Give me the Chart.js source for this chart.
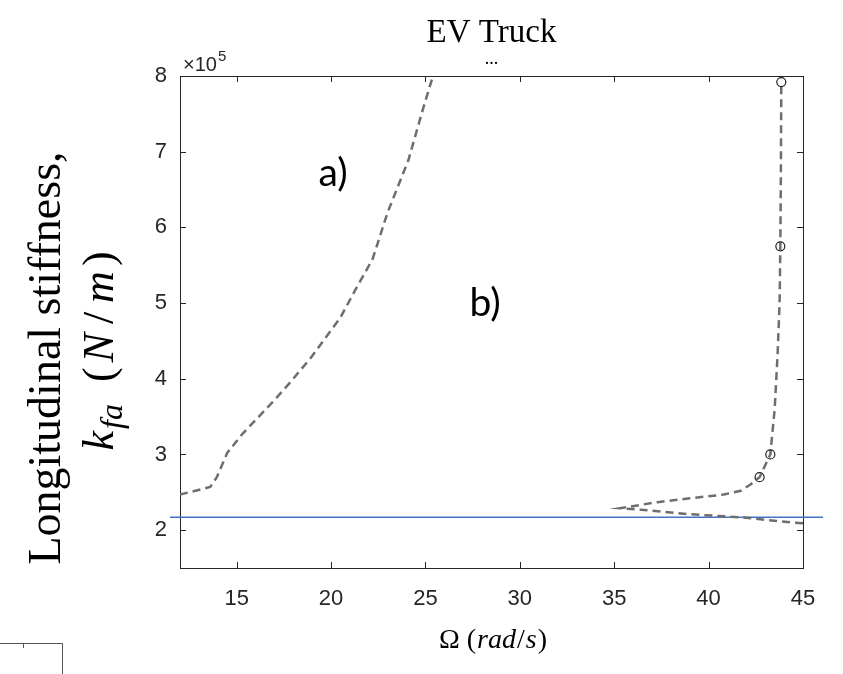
<!DOCTYPE html>
<html>
<head>
<meta charset="utf-8">
<title>EV Truck</title>
<script src="https://cdn.jsdelivr.net/npm/chart.js@4.4.1/dist/chart.umd.min.js"></script>
<style>
  html, body { margin: 0; padding: 0; background: #fff; }
  #wrap { width: 843px; height: 674px; position: relative; }
</style>
</head>
<body>
<div id="wrap"><canvas id="stiffnessChart"></canvas></div>
<script>
// values, y in units of 1e5 N/m
const xTicks = [15, 20, 25, 30, 35, 40, 45];
const yTicks = [2, 3, 4, 5, 6, 7, 8];

// boundary a) (left curve)
const curveAX = [12.0, 13.6, 13.95, 14.5, 15.3, 16.9, 17.9, 19.0, 20.5, 21.3, 22.2, 23.0, 24.1, 24.9, 25.4];
const curveAY = [2.47, 2.57, 2.70, 3.02, 3.27, 3.69, 3.97, 4.30, 4.81, 5.18, 5.58, 6.20, 6.89, 7.59, 8.0];

// boundary b) (right curve, lower branch then upper branch)
const curveBX = [45.0, 44.5, 41.7, 39.0, 36.4, 35.3, 37.3, 39.0, 40.8, 41.7, 42.2, 42.7, 43.27, 43.5, 43.65, 43.76, 43.8, 43.83, 43.85];
const curveBY = [2.09, 2.10, 2.17, 2.21, 2.27, 2.29, 2.37, 2.42, 2.47, 2.52, 2.60, 2.70, 3.00, 3.60, 4.30, 5.00, 5.75, 6.80, 7.92];

// circled points on curve b)
const markX = [43.85, 43.8, 43.27, 42.7];
const markY = [7.92, 5.75, 3.00, 2.70];

// horizontal reference line
const refY = 2.17;
const refX = [11.47, 46.06];

const toPts = (xs, ys) => xs.map((x, i) => ({ x: x, y: ys[i] }));

const serif = "'Liberation Serif', 'Times New Roman', serif";
const sans = "'Liberation Sans', Arial, sans-serif";
const axisColor = '#262626';

function drawRuns(ctx, runs, cx, base) {
  let total = 0;
  runs.forEach(r => {
    ctx.font = r.font;
    r.w = ctx.measureText(r.text).width;
    total += r.w + (r.gap || 0);
  });
  let x = cx - total / 2;
  runs.forEach(r => {
    ctx.font = r.font;
    ctx.fillText(r.text, x, base + (r.dy || 0));
    x += r.w + (r.gap || 0);
  });
}

const matlabAxes = {
  id: 'matlabAxes',
  beforeDatasetsDraw(chart) {
    const ctx = chart.ctx;
    const a = chart.chartArea;
    const xs = chart.scales.x, ys = chart.scales.y;
    ctx.save();
    ctx.strokeStyle = axisColor;
    ctx.lineWidth = 1;
    ctx.strokeRect(a.left + 0.5, a.top + 0.5, a.right - a.left, a.bottom - a.top);
    ctx.beginPath();
    xs.ticks.forEach(t => {
      const px = Math.round(xs.getPixelForValue(t.value)) + 0.5;
      ctx.moveTo(px, a.bottom); ctx.lineTo(px, a.bottom - 6);
      ctx.moveTo(px, a.top); ctx.lineTo(px, a.top + 6);
    });
    ys.ticks.forEach(t => {
      const py = Math.round(ys.getPixelForValue(t.value)) + 0.5;
      ctx.moveTo(a.left, py); ctx.lineTo(a.left + 6, py);
      ctx.moveTo(a.right, py); ctx.lineTo(a.right - 6, py);
    });
    ctx.stroke();
    ctx.restore();
  },
  afterDraw(chart) {
    const ctx = chart.ctx;
    const a = chart.chartArea;
    ctx.save();
    ctx.fillStyle = '#000';
    ctx.textBaseline = 'alphabetic';

    // title
    ctx.textAlign = 'center';
    ctx.font = '33px ' + serif;
    ctx.fillText('EV Truck', (a.left + a.right) / 2, 42);
    ctx.font = '18px ' + serif;
    ctx.fillText('...', (a.left + a.right) / 2, 64);

    // exponent label
    ctx.fillStyle = axisColor;
    ctx.textAlign = 'left';
    ctx.font = '20px ' + sans;
    ctx.fillText('\u00d710', a.left + 3, 71);
    const w = ctx.measureText('\u00d710').width;
    ctx.font = '15px ' + sans;
    ctx.fillText('5', a.left + 4 + w, 61);

    // region labels
    ctx.fillStyle = '#000';
    ctx.textAlign = 'center';
    ctx.font = '39px Lato, sans-serif';
    ctx.fillText('a)', 333, 186);
    ctx.fillText('b)', 485, 316);

    // x axis title
    ctx.textAlign = 'left';
    drawRuns(ctx, [
      { text: '\u03a9', font: '28px ' + serif, gap: 7 },
      { text: '(', font: '28px ' + serif, gap: 1 },
      { text: 'rad', font: 'italic 28px ' + serif, gap: 1 },
      { text: '/', font: '28px ' + serif, gap: 1 },
      { text: 's', font: 'italic 28px ' + serif, gap: 1 },
      { text: ')', font: '28px ' + serif }
    ], 493, 648);

    // y axis title (two lines, rotated)
    ctx.save();
    ctx.translate(60, 358);
    ctx.rotate(-Math.PI / 2);
    ctx.textAlign = 'center';
    ctx.font = '46px ' + serif;
    ctx.fillText('Longitudinal stiffness,', 0, 0);
    ctx.restore();

    ctx.save();
    ctx.translate(113, 351);
    ctx.rotate(-Math.PI / 2);
    ctx.textAlign = 'left';
    drawRuns(ctx, [
      { text: 'k', font: 'italic 44px ' + serif, gap: 2 },
      { text: 'fa', font: 'italic 32px ' + serif, dy: 9, gap: 22 },
      { text: '(', font: '44px ' + serif, gap: 5 },
      { text: 'N', font: 'italic 44px ' + serif, gap: 9 },
      { text: '/', font: '44px ' + serif, gap: 9 },
      { text: 'm', font: 'italic 44px ' + serif, gap: 5 },
      { text: ')', font: '44px ' + serif }
    ], 0, 0);
    ctx.restore();

    // stray frame fragment at bottom-left
    ctx.strokeStyle = '#555';
    ctx.lineWidth = 1;
    ctx.beginPath();
    ctx.moveTo(0, 643.5); ctx.lineTo(62.5, 643.5); ctx.lineTo(62.5, 674);
    ctx.moveTo(23.5, 643.5); ctx.lineTo(23.5, 648);
    ctx.stroke();
    ctx.restore();
  }
};

const ctx = document.getElementById('stiffnessChart').getContext('2d');
const chart = new Chart(ctx, {
  type: 'scatter',
  data: {
    datasets: [
      {
        label: 'marked points',
        data: toPts(markX, markY),
        showLine: false,
        pointRadius: 4.5,
        pointBorderWidth: 1.2,
        pointBorderColor: '#222',
        pointBackgroundColor: 'rgba(0,0,0,0)'
      },
      {
        label: 'boundary a',
        data: toPts(curveAX, curveAY),
        showLine: true,
        pointRadius: 0,
        borderColor: '#6e6e6e',
        borderWidth: 2.5,
        borderDash: [8, 5]
      },
      {
        label: 'boundary b',
        data: toPts(curveBX, curveBY),
        showLine: true,
        pointRadius: 0,
        borderColor: '#6e6e6e',
        borderWidth: 2.5,
        borderDash: [8, 5]
      },
      {
        label: 'reference',
        data: refX.map(x => ({ x: x, y: refY })),
        showLine: true,
        pointRadius: 0,
        borderColor: '#4472c4',
        borderWidth: 1.5,
        clip: false
      }
    ]
  },
  options: {
    responsive: true,
    maintainAspectRatio: false,
    animation: false,
    layout: { padding: { left: 0, right: 40, top: 76, bottom: 0 } },
    plugins: {
      legend: { display: false },
      tooltip: { enabled: false },
      title: { display: false }
    },
    scales: {
      x: {
        type: 'linear',
        min: 12,
        max: 45,
        afterBuildTicks: (scale) => { scale.ticks = xTicks.map(v => ({ value: v })); },
        afterFit: (scale) => { scale.height = 106; },
        grid: { display: false, drawTicks: false },
        border: { display: false },
        ticks: { padding: 18, color: axisColor, font: { family: sans, size: 22 } }
      },
      y: {
        type: 'linear',
        min: 1.5,
        max: 8,
        afterBuildTicks: (scale) => { scale.ticks = yTicks.map(v => ({ value: v })); },
        afterFit: (scale) => { scale.width = 180; },
        grid: { display: false, drawTicks: false },
        border: { display: false },
        ticks: { padding: 13, color: axisColor, font: { family: sans, size: 22 } }
      }
    }
  },
  plugins: [matlabAxes]
});
</script>
</body>
</html>
